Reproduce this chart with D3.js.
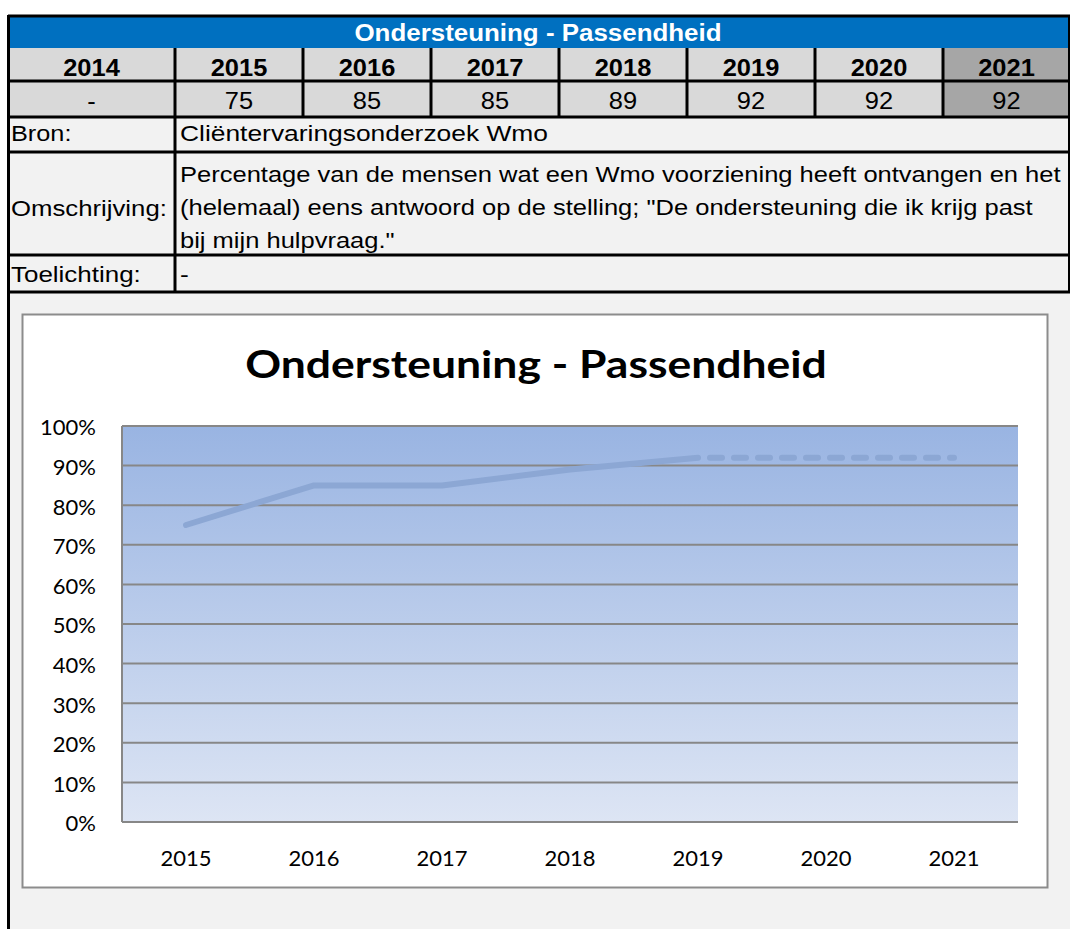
<!DOCTYPE html>
<html>
<head>
<meta charset="utf-8">
<script src="https://cdn.jsdelivr.net/npm/d3@7"></script>
<style>
  body { margin: 0; background: #fff; }
  svg { display: block; }
</style>
</head>
<body>
<svg id="chart" width="1070" height="929"></svg>
<script>
// table data
const tableYears = ['2014', '2015', '2016', '2017', '2018', '2019', '2020', '2021'];
const tableValues = ['-', '75', '85', '85', '89', '92', '92', '92'];
const descLines = [
  'Percentage van de mensen wat een Wmo voorziening heeft ontvangen en het',
  '(helemaal) eens antwoord op de stelling; "De ondersteuning die ik krijg past',
  'bij mijn hulpvraag."'
];

// chart data
const years = ['2015', '2016', '2017', '2018', '2019', '2020', '2021'];
const values = [75, 85, 85, 89, 92, 92, 92];
const yTicks = [0, 10, 20, 30, 40, 50, 60, 70, 80, 90, 100];

const svg = d3.select('#chart');
const tableFont = '"Liberation Sans", Arial, sans-serif';
const chartFont = 'Lato, "Open Sans", sans-serif';

// text helper: excel stretches its text a bit wider than the browser does
function label(x, y, str, opts) {
  const o = Object.assign({ size: 22, weight: 'normal', anchor: 'start', sx: 1, fill: '#000', font: tableFont }, opts);
  return svg.append('text')
    .attr('transform', `translate(${x},${y}) scale(${o.sx},1)`)
    .attr('text-anchor', o.anchor)
    .attr('font-family', o.font).attr('font-size', o.size).attr('font-weight', o.weight)
    .attr('fill', o.fill).text(str);
}

// page background below the table
svg.append('rect').attr('x', 8).attr('y', 15).attr('width', 1062).attr('height', 914).attr('fill', '#f2f2f2');

// title bar
svg.append('rect').attr('x', 8).attr('y', 15).attr('width', 1062).attr('height', 33).attr('fill', '#0070c0');
label(538, 41, 'Ondersteuning - Passendheid', { size: 24, weight: 'bold', anchor: 'middle', sx: 1.08, fill: '#fff' });

// year columns
const colEdges = [8, 175, 303, 431, 559, 687, 815, 943, 1070];
tableYears.forEach((y, i) => {
  const x0 = colEdges[i], x1 = colEdges[i + 1];
  const fill = i === tableYears.length - 1 ? '#a6a6a6' : '#d9d9d9';
  svg.append('rect').attr('x', x0).attr('y', 48).attr('width', x1 - x0).attr('height', 69).attr('fill', fill);
  label((x0 + x1) / 2, 76, y, { size: 24, weight: 'bold', anchor: 'middle', sx: 1.06 });
  label((x0 + x1) / 2, 109, tableValues[i], { size: 24, anchor: 'middle', sx: 1.06 });
});

// label rows
label(11, 141, 'Bron:', { sx: 1.15 });
label(11, 216, 'Omschrijving:', { sx: 1.17 });
label(11, 282, 'Toelichting:', { sx: 1.18 });

label(180, 141, 'Cliëntervaringsonderzoek Wmo', { sx: 1.2 });
descLines.forEach((t, i) => label(180, 182 + i * 33, t, { sx: 1.16 }));
label(180, 282, '-', { sx: 1.2 });

// table lines
[16, 81, 117, 152, 255, 292].forEach(y => svg.append('line')
  .attr('x1', 8).attr('x2', 1070).attr('y1', y).attr('y2', y)
  .attr('stroke', '#000').attr('stroke-width', 3));
colEdges.slice(1, -1).forEach(x => svg.append('line').attr('x1', x).attr('x2', x).attr('y1', 48).attr('y2', 118)
  .attr('stroke', '#000').attr('stroke-width', 3));
svg.append('line').attr('x1', 175).attr('x2', 175).attr('y1', 117).attr('y2', 293).attr('stroke', '#000').attr('stroke-width', 3);
svg.append('line').attr('x1', 8.5).attr('x2', 8.5).attr('y1', 15).attr('y2', 929).attr('stroke', '#000').attr('stroke-width', 3);
svg.append('line').attr('x1', 1069).attr('x2', 1069).attr('y1', 15).attr('y2', 293).attr('stroke', '#000').attr('stroke-width', 2);

// chart box
svg.append('rect').attr('x', 22.5).attr('y', 314.5).attr('width', 1025).attr('height', 573)
  .attr('fill', '#fff').attr('stroke', '#8c8c8c').attr('stroke-width', 2);
label(536, 378, 'Ondersteuning - Passendheid', { font: chartFont, size: 39, weight: 'bold', anchor: 'middle', sx: 1.14 });

const plot = { left: 122, right: 1018, top: 426, bottom: 822 };
const x = d3.scaleBand().domain(years).range([plot.left, plot.right]);
const y = d3.scaleLinear().domain([0, 100]).range([plot.bottom, plot.top]);

const grad = svg.append('defs').append('linearGradient').attr('id', 'bg')
  .attr('x1', 0).attr('x2', 0).attr('y1', 0).attr('y2', 1);
grad.append('stop').attr('offset', '0%').attr('stop-color', '#99b4e2');
grad.append('stop').attr('offset', '100%').attr('stop-color', '#dde5f4');

svg.append('rect').attr('x', plot.left).attr('y', plot.top)
  .attr('width', plot.right - plot.left).attr('height', plot.bottom - plot.top).attr('fill', 'url(#bg)');

// gridlines
svg.append('g').selectAll('line').data(yTicks).join('line')
  .attr('x1', plot.left).attr('x2', plot.right)
  .attr('y1', d => y(d)).attr('y2', d => y(d))
  .attr('stroke', '#878787').attr('stroke-width', 2);
svg.append('line').attr('x1', plot.left).attr('x2', plot.left).attr('y1', plot.top).attr('y2', plot.bottom)
  .attr('stroke', '#878787').attr('stroke-width', 2);

// axes
const yAxis = svg.append('g').attr('transform', `translate(${plot.left - 26},0)`)
  .call(d3.axisLeft(y).tickValues(yTicks).tickFormat(d => d + '%').tickSize(0));
yAxis.select('.domain').remove();
yAxis.selectAll('text').attr('font-family', chartFont).attr('font-size', 22)
  .attr('fill', '#000').attr('x', 0).attr('dy', '0.4em');

const xAxis = svg.append('g').attr('transform', `translate(0,${plot.bottom})`)
  .call(d3.axisBottom(x).tickSize(0));
xAxis.select('.domain').remove();
xAxis.selectAll('text').attr('font-family', chartFont).attr('font-size', 22)
  .attr('fill', '#000').attr('y', 44).attr('dy', 0);

// line: solid up to 2019, dashed after
const pts = years.map((yr, i) => ({ yr, v: values[i] }));
const line = d3.line().x(d => x(d.yr) + x.bandwidth() / 2).y(d => y(d.v));
svg.append('path').attr('d', line(pts.slice(0, 5)))
  .attr('fill', 'none').attr('stroke', '#8ca7d4').attr('stroke-width', 6)
  .attr('stroke-linejoin', 'round').attr('stroke-linecap', 'round');
svg.append('path').attr('d', line(pts.slice(4)))
  .attr('fill', 'none').attr('stroke', '#8ca7d4').attr('stroke-width', 6)
  .attr('stroke-dasharray', '12 12').attr('stroke-dashoffset', -12).attr('stroke-linecap', 'round');
</script>
</body>
</html>
